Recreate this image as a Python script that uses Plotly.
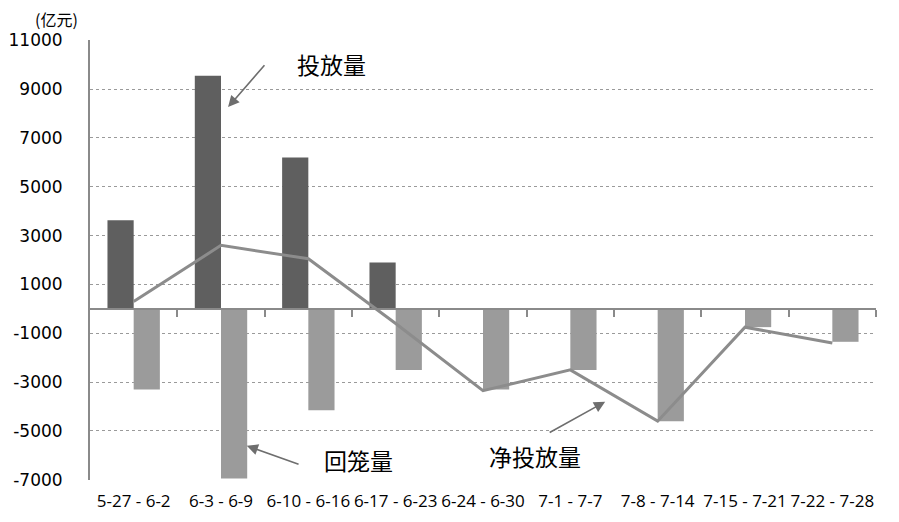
import plotly.graph_objects as go

categories = ["5-27 - 6-2", "6-3 - 6-9", "6-10 - 6-16", "6-17 - 6-23", "6-24 - 6-30",
              "7-1 - 7-7", "7-8 - 7-14", "7-15 - 7-21", "7-22 - 7-28"]
injection = [3630, 9550, 6200, 1900, 0, 0, 0, 0, 0]          # 投放量
withdrawal = [-3300, -6950, -4150, -2500, -3300, -2500, -4600, -750, -1350]  # 回笼量
net_injection = [300, 2600, 2050, -600, -3350, -2500, -4600, -750, -1400]   # 净投放量
y_ticks = [-7000, -5000, -3000, -1000, 1000, 3000, 5000, 7000, 9000, 11000]
y_tick_text = ["-7000", "-5000", "-3000", "-1000", "1000", "3000", "5000", "7000", "9000", "11000"]

fig = go.Figure()
fig.add_trace(go.Bar(x=categories, y=injection, name="投放量",
                     marker=dict(color="#5f5f5f", line=dict(width=0))))
fig.add_trace(go.Bar(x=categories, y=withdrawal, name="回笼量",
                     marker=dict(color="#9b9b9b", line=dict(width=0))))
fig.add_trace(go.Scatter(x=categories, y=net_injection, name="净投放量", mode="lines",
                         line=dict(color="#8c8c8c", width=3)))

# page has an 8px body margin, so the figure is sized/offset accordingly
fig.update_layout(
    width=891, height=514,
    margin=dict(l=82, r=23, t=32, b=42),
    paper_bgcolor="white", plot_bgcolor="white",
    barmode="group", bargap=0.4, bargroupgap=0,
    showlegend=False,
    font=dict(family="DejaVu Sans", color="black"),
    xaxis=dict(type="category", categoryarray=categories, showline=False, showgrid=False,
               zeroline=False, ticks="outside", ticklen=6, tickcolor="rgba(0,0,0,0)",
               automargin=False,
               tickfont=dict(family="Open Sans", size=17, color="black")),
    xaxis2=dict(overlaying="x", anchor="free", position=7010/18020, range=[-0.5, 8.5],
                showline=True, linecolor="#8a8a8a", linewidth=2, showgrid=False,
                zeroline=False, ticks="outside", ticklen=7, tickwidth=2, tickcolor="#8a8a8a",
                automargin=False,
                tickvals=[0.5 + i for i in range(len(categories))], showticklabels=False),
    yaxis=dict(range=[-7010, 11010], tickvals=y_ticks, ticktext=y_tick_text,
               showline=True, linecolor="#8a8a8a",
               linewidth=2, showgrid=True, gridcolor="#9a9a9a", griddash="dot", gridwidth=1,
               zeroline=False, ticks="", ticklabelstandoff=22, automargin=False,
               tickfont=dict(family="DejaVu Sans", size=17, color="black")),
)
# invisible helper trace so that the zero-line axis (xaxis2) is drawn
fig.add_trace(go.Scatter(x=[0], y=[0], xaxis="x2", mode="markers",
                         marker=dict(opacity=0), hoverinfo="skip", showlegend=False))

cjk = dict(family="Noto Sans CJK SC", size=23, color="black")
annotations = [
    dict(xref="paper", yref="paper", x=0, y=1.0, xanchor="center", yanchor="middle",
         xshift=-34, yshift=21,
         text="(亿元)", showarrow=False, font=dict(family="Noto Sans CJK SC", size=16, color="black")),
    dict(x=2.261, y=10042, text="投放量", showarrow=False, font=cjk),
    dict(x=2.570, y=-6180, text="回笼量", showarrow=False, font=cjk),
    dict(x=4.597, y=-6013, text="净投放量", showarrow=False, font=cjk),
    dict(x=1.081, y=8261, ax=37.7, ay=-43.4, text="", showarrow=True, arrowhead=2,
         arrowsize=1.4, arrowwidth=1.6, arrowcolor="#6e6e6e"),
    dict(x=1.295, y=-5609, ax=53.3, ay=19, text="", showarrow=True, arrowhead=2,
         arrowsize=1.4, arrowwidth=1.6, arrowcolor="#6e6e6e"),
    dict(x=5.399, y=-3803, ax=-57, ay=31.7, text="", showarrow=True, arrowhead=2,
         arrowsize=1.4, arrowwidth=1.6, arrowcolor="#6e6e6e"),
]
fig.update_layout(annotations=annotations)

fig.write_html("out.html")
